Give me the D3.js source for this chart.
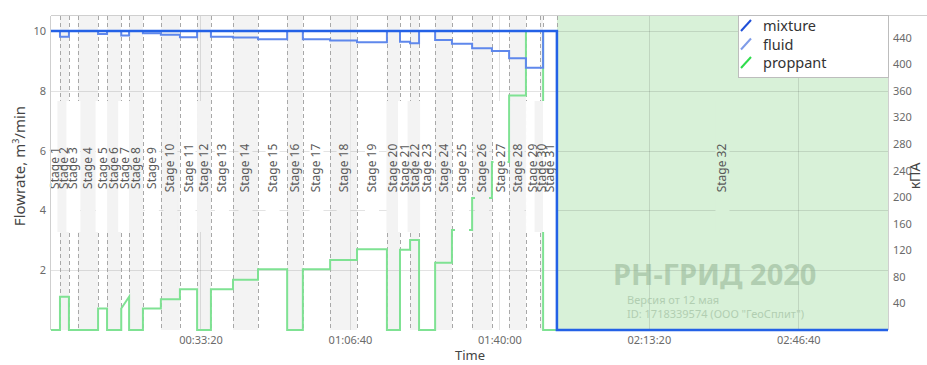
<!DOCTYPE html>
<html>
<head>
<meta charset="utf-8">
<script src="https://cdn.jsdelivr.net/npm/d3@7"></script>
<style>
  body { margin: 0; background: #fff; }
  svg { font-family: "Noto Sans", sans-serif; display: block; }
</style>
</head>
<body>
<svg id="chart"></svg>
<script>
const width = 927;
const height = 365;

// stage start times, seconds
const stageStarts = [0, 120, 240, 360, 630, 750, 940, 1045, 1230, 1470, 1725, 1955, 2140, 2435, 2770, 3160,
  3370, 3735, 4095, 4495, 4670, 4805, 4925, 5140, 5365, 5635, 5900, 6130, 6355, 6545, 6585, 6770];
const stageEnd = 11200;
const stageNames = d3.range(1, 33).map((i) => "Stage " + i);

// rates per stage, m3/min
const mixtureRate = [10, 10, 10, 10, 10, 10, 10, 10, 10, 10, 10, 10, 10, 10, 10, 10,
  10, 10, 10, 10, 10, 10, 10, 10, 10, 10, 10, 10, 10, 10, 10, 0];
const fluidRate = [10, 9.81, 10, 10, 9.9, 10, 9.85, 10, 9.92, 9.87, 9.79, 10, 9.81, 9.78, 9.72, 10,
  9.72, 9.68, 9.62, 10, 9.64, 9.59, 10, 9.7, 9.57, 9.42, 9.33, 9.09, 8.77, 8.77, 10, 0];
const proppantStartRate = [0, 1.11, 0, 0, 0.72, 0, 0.72, 0, 0.72, 1.03, 1.36, 0, 1.36, 1.68, 2.03, 0,
  2.03, 2.34, 2.7, 0, 2.68, 3.01, 0, 2.25, 3.34, 4.41, 5.62, 7.84, 10, 10, 0, 0];
const proppantEndRate = [0, 1.11, 0, 0, 0.72, 0, 1.11, 0, 0.72, 1.03, 1.36, 0, 1.36, 1.68, 2.03, 0,
  2.03, 2.34, 2.7, 0, 2.68, 3.01, 0, 2.25, 3.34, 4.41, 5.62, 7.84, 10, 10, 0, 0];

const leftTicks = [2, 4, 6, 8, 10];
const rightTicks = [40, 80, 120, 160, 200, 240, 280, 320, 360, 400, 440];
const timeTicks = [2000, 4000, 6000, 8000, 10000];

const plot = { left: 51, right: 888, top: 16, bottom: 330 };

const svg = d3.select("#chart").attr("width", width).attr("height", height);
svg.append("rect").attr("width", width).attr("height", height).attr("fill", "#fff");

const x = d3.scaleLinear().domain([0, stageEnd]).range([plot.left, plot.right]);
const y = d3.scaleLinear().domain([0, 10.5]).range([plot.bottom, plot.top]);
const yRight = d3.scaleLinear().domain([0, 472.5]).range([plot.bottom, plot.top]);

const stages = stageStarts.map((s, i) => ({
  name: stageNames[i],
  start: s,
  end: i < stageStarts.length - 1 ? stageStarts[i + 1] : stageEnd,
  index: i,
}));
const bandColor = (d) => (d.index === 31 ? "#d8f1d8" : d.index % 2 === 1 ? "#f3f3f3" : "#fff");

// stage bands
svg.append("g")
  .selectAll("rect")
  .data(stages)
  .enter()
  .append("rect")
  .attr("x", (d) => x(d.start))
  .attr("y", plot.top)
  .attr("width", (d) => x(d.end) - x(d.start))
  .attr("height", plot.bottom - plot.top)
  .attr("fill", bandColor);

// grid
const grid = svg.append("g").attr("stroke", "rgba(0,0,0,0.11)").attr("stroke-width", 1);
leftTicks.forEach((t) => {
  grid.append("line").attr("x1", plot.left).attr("x2", plot.right)
    .attr("y1", Math.round(y(t)) + 0.5).attr("y2", Math.round(y(t)) + 0.5);
});
timeTicks.forEach((t) => {
  grid.append("line").attr("y1", plot.top).attr("y2", plot.bottom)
    .attr("x1", Math.round(x(t)) + 0.5).attr("x2", Math.round(x(t)) + 0.5);
});

// stage boundaries
svg.append("g")
  .selectAll("line")
  .data(stages.slice(1))
  .enter()
  .append("line")
  .attr("x1", (d) => Math.round(x(d.start)) + 0.5)
  .attr("x2", (d) => Math.round(x(d.start)) + 0.5)
  .attr("y1", plot.top)
  .attr("y2", plot.bottom)
  .attr("stroke", "#a8a8a8")
  .attr("stroke-dasharray", "4,3");

function stepPoints(startVals, endVals) {
  const pts = [];
  stages.forEach((d, i) => {
    pts.push([d.start, startVals[i]]);
    pts.push([d.end, endVals[i]]);
  });
  return pts;
}
const line = d3.line().x((d) => x(d[0])).y((d) => y(d[1]));

svg.append("path")
  .attr("d", line(stepPoints(proppantStartRate, proppantEndRate)))
  .attr("fill", "none")
  .attr("stroke", "#7fe293")
  .attr("stroke-width", 2);

// stage labels with their backing boxes
const labels = svg.append("g");
labels.selectAll("rect")
  .data(stages)
  .enter()
  .append("rect")
  .attr("x", (d) => x((d.start + d.end) / 2) - 7)
  .attr("y", 101)
  .attr("width", 14)
  .attr("height", 131)
  .attr("fill", bandColor);
labels.selectAll("text")
  .data(stages)
  .enter()
  .append("text")
  .attr("transform", (d) => `translate(${x((d.start + d.end) / 2) + 4},168) rotate(-90)`)
  .attr("text-anchor", "middle")
  .attr("font-size", 12)
  .attr("fill", "#5a5a5a")
  .text((d) => d.name);

svg.append("path")
  .attr("d", line(stepPoints(fluidRate, fluidRate)))
  .attr("fill", "none")
  .attr("stroke", "#5f88ec")
  .attr("stroke-width", 2);

svg.append("path")
  .attr("d", line(stepPoints(mixtureRate, mixtureRate)))
  .attr("fill", "none")
  .attr("stroke", "#2361e6")
  .attr("stroke-width", 2.5);

// frame
const frame = svg.append("g").attr("stroke", "#cfcfcf").attr("fill", "none");
frame.append("line").attr("x1", plot.left).attr("x2", width).attr("y1", plot.top - 0.5).attr("y2", plot.top - 0.5);
frame.append("line").attr("x1", plot.left - 0.5).attr("x2", plot.left - 0.5).attr("y1", plot.top).attr("y2", plot.bottom);
frame.append("line").attr("x1", plot.right + 0.5).attr("x2", plot.right + 0.5).attr("y1", plot.top).attr("y2", plot.bottom);

// axes
const fmtTime = (s) => {
  const h = Math.floor(s / 3600), m = Math.floor((s % 3600) / 60), sec = s % 60;
  return [h, m, sec].map((v) => String(v).padStart(2, "0")).join(":");
};
function styleAxis(g) {
  g.select(".domain").remove();
  g.selectAll("text").attr("font-size", 11).attr("fill", "#6a6a6a").attr("font-family", "Noto Sans, sans-serif");
}
svg.append("g")
  .attr("transform", `translate(${plot.left},0)`)
  .call(d3.axisLeft(y).tickValues(leftTicks).tickSize(0).tickPadding(5))
  .call(styleAxis);
svg.append("g")
  .attr("transform", `translate(${plot.right},0)`)
  .call(d3.axisRight(yRight).tickValues(rightTicks).tickSize(0).tickPadding(5))
  .call(styleAxis);
svg.append("g")
  .attr("transform", `translate(0,${plot.bottom})`)
  .call(d3.axisBottom(x).tickValues(timeTicks).tickFormat(fmtTime).tickSize(0).tickPadding(6))
  .call(styleAxis);

svg.append("text")
  .attr("transform", "translate(25,166) rotate(-90)")
  .attr("text-anchor", "middle")
  .attr("font-size", 15)
  .attr("fill", "#444")
  .html("Flowrate, m<tspan baseline-shift='super' font-size='9'>3</tspan>/min");
svg.append("text")
  .attr("transform", "translate(920,176) rotate(-90)")
  .attr("text-anchor", "middle")
  .attr("font-size", 14)
  .attr("fill", "#444")
  .text("кПА");
svg.append("text")
  .attr("x", 470)
  .attr("y", 360)
  .attr("text-anchor", "middle")
  .attr("font-size", 13)
  .attr("fill", "#444")
  .text("Time");

// legend
const legendItems = ["mixture", "fluid", "proppant"];
const legendColors = ["#1f4fd8", "#7f9ce8", "#2fdc4c"];
const legend = svg.append("g").attr("transform", "translate(738,15)");
legend.append("rect")
  .attr("x", 0.5).attr("y", 0.5).attr("width", 150).attr("height", 62)
  .attr("fill", "#fff").attr("stroke", "#bdbdbd");
legendItems.forEach((name, i) => {
  const cy = 11 + i * 18.5;
  legend.append("line")
    .attr("x1", 3).attr("y1", cy + 5).attr("x2", 13).attr("y2", cy - 6)
    .attr("stroke", legendColors[i]).attr("stroke-width", 2);
  legend.append("text")
    .attr("x", 25).attr("y", cy + 5)
    .attr("font-size", 14.5)
    .attr("fill", "#333")
    .text(name);
});

// watermark
const wm = svg.append("g").attr("fill", "#98b898").attr("opacity", 0.6);
wm.append("text").attr("x", 613).attr("y", 285).attr("font-size", 29).attr("font-weight", "bold").text("РН-ГРИД 2020");
wm.append("text").attr("x", 627).attr("y", 304).attr("font-size", 11).text("Версия от 12 мая");
wm.append("text").attr("x", 627).attr("y", 318).attr("font-size", 11).text("ID: 1718339574 (ООО \"ГеоСплит\")");
</script>
</body>
</html>
